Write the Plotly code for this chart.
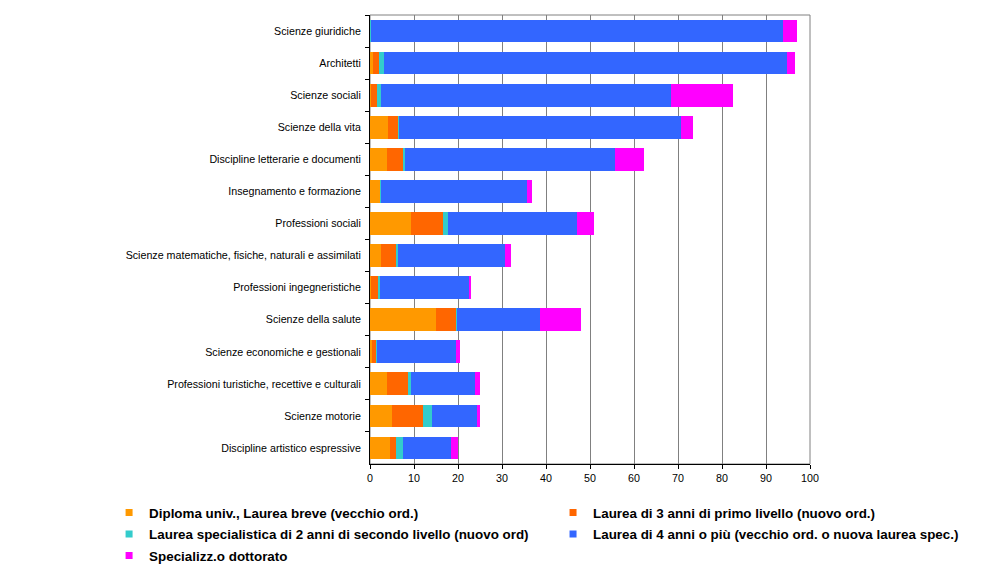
import plotly.graph_objects as go

categorie = [
    "Scienze giuridiche",
    "Architetti",
    "Scienze sociali",
    "Scienze della vita",
    "Discipline letterarie e documenti",
    "Insegnamento e formazione",
    "Professioni sociali",
    "Scienze matematiche, fisiche, naturali e assimilati",
    "Professioni ingegneristiche",
    "Scienze della salute",
    "Scienze economiche e gestionali",
    "Professioni turistiche, recettive e culturali",
    "Scienze motorie",
    "Discipline artistico espressive",
]

diploma = [0.0, 0.7, 0.2, 4.2, 3.9, 2.3, 9.4, 2.4, 0.2, 14.9, 0.4, 3.9, 5.1, 4.6]
laurea3 = [0.0, 1.4, 1.3, 2.3, 3.8, 0.0, 7.1, 3.4, 1.7, 4.7, 1.1, 4.8, 6.9, 1.4]
specialistica = [0.2, 1.1, 1.1, 0.2, 0.2, 0.2, 1.2, 0.6, 0.4, 0.15, 0.2, 0.7, 2.0, 1.6]
laurea4 = [93.6, 91.5, 65.7, 64.0, 47.7, 33.2, 29.4, 24.2, 20.1, 18.8, 17.9, 14.4, 10.3, 10.7]
dottorato = [3.3, 1.8, 14.3, 2.6, 6.6, 1.1, 3.8, 1.5, 0.6, 9.5, 0.9, 1.2, 0.6, 1.7]

serie = [
    ("Diploma univ., Laurea breve (vecchio ord.)", diploma, "#FF9900", "legend"),
    ("Laurea di 3 anni di primo livello (nuovo ord.)", laurea3, "#FF6600", "legend2"),
    ("Laurea specialistica di 2 anni di secondo livello (nuovo ord)", specialistica, "#33CCCC", "legend"),
    ("Laurea di 4 anni o più (vecchio ord. o nuova laurea spec.)", laurea4, "#3366FF", "legend2"),
    ("Specializz.o dottorato", dottorato, "#FF00FF", "legend"),
]

x_ticks = list(range(0, 101, 10))

fig = go.Figure()
for i, (nome, valori, colore, leg) in enumerate(serie):
    fig.add_trace(go.Bar(
        y=categorie, x=valori, name=nome, orientation="h",
        marker=dict(color=colore, line=dict(width=0)),
        showlegend=False,
    ))
# legend entries with small square markers
for i, (nome, valori, colore, leg) in enumerate(serie):
    fig.add_trace(go.Scatter(
        x=[None], y=[None], mode="markers", name=nome,
        marker=dict(symbol="square", size=7, color=colore),
        legend=leg, legendgroup="g%d" % i, hoverinfo="skip",
    ))

font_base = dict(family="Liberation Sans, Arial, sans-serif", size=10.7, color="black")
legend_font = dict(family="Liberation Sans, Arial, sans-serif", size=13.4, color="black", weight="bold")

fig.update_layout(
    width=1004, height=576,
    margin=dict(l=362, r=202, t=7, b=120, autoexpand=False),
    barmode="stack", bargap=0.29,
    plot_bgcolor="white", paper_bgcolor="white",
    font=font_base,
    xaxis=dict(
        range=[0, 100], tickvals=x_ticks, ticktext=[str(v) for v in x_ticks],
        showgrid=True, gridcolor="#808080", gridwidth=1,
        showline=True, linecolor="black", linewidth=1,
        ticks="outside", ticklen=4, tickcolor="black",
        zeroline=False, fixedrange=True,
    ),
    yaxis=dict(
        autorange="reversed", type="category",
        showgrid=False, showline=True, linecolor="black", linewidth=1,
        ticks="outside", ticklen=4, tickcolor="black", tickson="boundaries",
        ticklabelstandoff=6, fixedrange=True,
    ),
    legend=dict(
        orientation="v", x=-0.593, xanchor="left", y=-0.0744, yanchor="top",
        font=legend_font, bgcolor="rgba(0,0,0,0)", tracegroupgap=1,
        traceorder="grouped", itemclick=False, itemdoubleclick=False,
    ),
    legend2=dict(
        orientation="v", x=0.416, xanchor="left", y=-0.0744, yanchor="top",
        font=legend_font, bgcolor="rgba(0,0,0,0)", tracegroupgap=1,
        traceorder="grouped", itemclick=False, itemdoubleclick=False,
    ),
    shapes=[dict(
        type="rect", xref="paper", yref="paper", x0=0, x1=1, y0=0, y1=1,
        line=dict(color="#808080", width=1), layer="below",
    )],
)

fig.write_html("out.html")
